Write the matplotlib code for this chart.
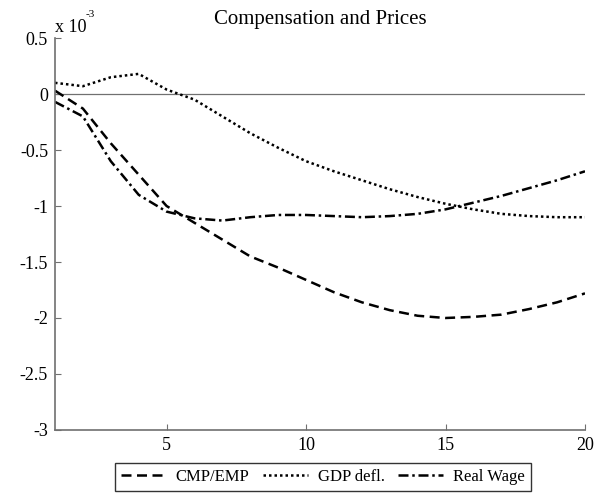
import numpy as np
import matplotlib.pyplot as plt

plt.rcParams['font.family'] = ['Liberation Serif', 'DejaVu Serif']

# horizonte (trimestres)
h = np.arange(1, 21)

# respuestas, en unidades de 1e-3
cmp_emp = [0.03, -0.13, -0.44, -0.72, -1.0, -1.15, -1.3, -1.45, -1.55, -1.66,
           -1.77, -1.86, -1.93, -1.98, -2.0, -1.99, -1.97, -1.92, -1.86, -1.78]
gdp_defl = [0.10, 0.07, 0.15, 0.18, 0.04, -0.05, -0.2, -0.35, -0.48, -0.6,
            -0.69, -0.77, -0.85, -0.92, -0.98, -1.03, -1.07, -1.09, -1.1, -1.1]
real_wage = [-0.07, -0.2, -0.6, -0.9, -1.05, -1.11, -1.13, -1.1, -1.08, -1.08,
             -1.09, -1.1, -1.09, -1.07, -1.03, -0.97, -0.91, -0.84, -0.77, -0.69]

y_ticks = [-3, -2.5, -2, -1.5, -1, -0.5, 0, 0.5]
x_ticks = [5, 10, 15, 20]

fig = plt.figure(figsize=(6, 4.94), dpi=100)
ax = fig.add_axes([0.0917, 0.1296, 0.8833, 0.7934])

ax.axhline(0, color='#707070', lw=0.9)
ax.plot(h, cmp_emp, color='k', lw=1.8, dashes=(4, 2.2), label='CMP/EMP')
ax.plot(h, gdp_defl, color='k', lw=1.8, dashes=(1, 1.2), label='GDP defl.')
ax.plot(h, real_wage, color='k', lw=1.8, dashes=(4, 1.5, 1, 1.5), label='Real Wage')

ax.set_xlim(1, 20)
ax.set_ylim(-3, 0.5)
ax.set_xticks(x_ticks)
ax.set_yticks(y_ticks)
ax.set_yticklabels(['%g' % v for v in y_ticks])
ax.tick_params(direction='in', length=4, color='#707070', labelsize=13, pad=5)
for s in ['top', 'right']:
    ax.spines[s].set_visible(False)
for s in ['left', 'bottom']:
    ax.spines[s].set_color('#707070')
    ax.spines[s].set_linewidth(1.2)

ax.set_title('Compensation and Prices', fontsize=15, pad=10)
ax.text(0.0, 1.015, 'x 10', transform=ax.transAxes, fontsize=13, va='baseline')
ax.text(0.058, 1.054, '-3', transform=ax.transAxes, fontsize=8, va='baseline')

leg = fig.legend(loc='lower center', bbox_to_anchor=(0.538, 3 / 494), ncol=3,
                 fontsize=12, frameon=True, fancybox=False, edgecolor='k',
                 handlelength=2.7, columnspacing=0.8, handletextpad=0.6,
                 borderpad=0.35, borderaxespad=0)
leg.get_frame().set_linewidth(1.0)

fig.savefig('out.png', dpi=100)
